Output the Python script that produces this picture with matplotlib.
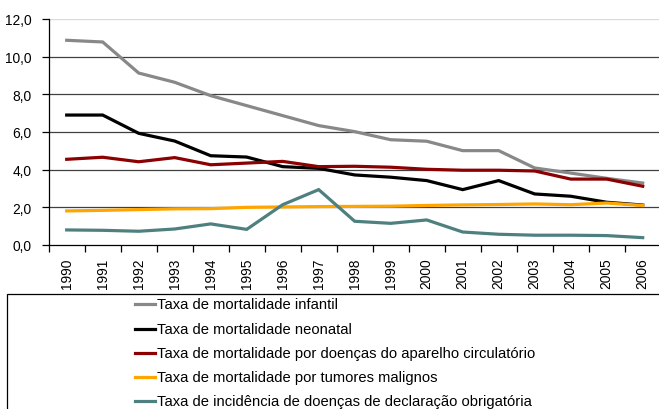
import matplotlib
matplotlib.use("Agg")
import matplotlib.pyplot as plt
from matplotlib.lines import Line2D
from matplotlib.patches import Rectangle

plt.rcParams['font.family'] = ['Liberation Sans', 'DejaVu Sans']

years = [str(y) for y in range(1990, 2007)]
infantil = [10.87, 10.78, 9.13, 8.64, 7.93, 7.40, 6.87, 6.34, 6.02, 5.59, 5.51, 5.01, 5.01, 4.09, 3.82, 3.54, 3.29]
neonatal = [6.90, 6.90, 5.93, 5.52, 4.74, 4.67, 4.16, 4.07, 3.72, 3.60, 3.42, 2.94, 3.42, 2.71, 2.59, 2.27, 2.12]
circulatorio = [4.55, 4.66, 4.42, 4.64, 4.26, 4.35, 4.44, 4.16, 4.18, 4.13, 4.02, 3.97, 3.97, 3.93, 3.50, 3.50, 3.12]
tumores = [1.81, 1.84, 1.88, 1.92, 1.93, 2.00, 2.02, 2.04, 2.05, 2.06, 2.10, 2.13, 2.15, 2.18, 2.14, 2.23, 2.10]
incidencia = [0.80, 0.78, 0.73, 0.85, 1.12, 0.83, 2.14, 2.94, 1.26, 1.15, 1.33, 0.69, 0.57, 0.52, 0.52, 0.50, 0.39]

names = [
    "Taxa de mortalidade infantil",
    "Taxa de mortalidade neonatal",
    "Taxa de mortalidade por doenças do aparelho circulatório",
    "Taxa de mortalidade por tumores malignos",
    "Taxa de incidência de doenças de declaração obrigatória",
]
series = [infantil, neonatal, circulatorio, tumores, incidencia]
colors = ["#888888", "#000000", "#8b0000", "#ffa500", "#4f8080"]
yticks = [0, 2, 4, 6, 8, 10, 12]
ytick_labels = ["0,0", "2,0", "4,0", "6,0", "8,0", "10,0", "12,0"]

W, H = 659, 410
fig = plt.figure(figsize=(W / 100, H / 100), dpi=100)
ax = fig.add_axes([48.7 / W, 164 / H, 612 / W, 226 / H])

x = list(range(len(years)))
for vals, c in zip(series, colors):
    ax.plot(x, vals, color=c, lw=2.3, solid_joinstyle='miter', zorder=3)

ax.set_xlim(-0.5, len(years) - 0.5)
ax.set_ylim(0, 12)
ax.set_yticks(yticks)
ax.set_yticklabels(ytick_labels, fontsize=9.9)
for yv in yticks[1:]:
    col = '#d9d9d9' if yv == 12 else '#404040'
    ax.axhline(yv, color=col, lw=0.9, zorder=1)

ax.set_xticks(x)
ax.set_xticklabels(years, rotation=90, fontsize=9.9)
ax.tick_params(axis='x', which='major', length=0, pad=9)
ax.set_xticks([i - 0.5 for i in range(len(years) + 1)], minor=True)
ax.tick_params(axis='x', which='minor', length=5, width=0.9, color='black', direction='out')
ax.tick_params(axis='y', length=5, width=0.9, pad=7.5, direction='out')

for s in ['top', 'right']:
    ax.spines[s].set_visible(False)
ax.spines['left'].set_linewidth(0.9)
ax.spines['bottom'].set_linewidth(0.9)

# legend box
fig.patches.append(Rectangle((7 / W, -0.05), 1.2, (410 - 294.5) / H + 0.05,
                             transform=fig.transFigure, fill=False,
                             edgecolor='black', lw=0.9, clip_on=False))
row_y = [305, 329.5, 354, 378, 402]
for name, c, ry in zip(names, colors, row_y):
    yf = 1 - ry / H
    fig.lines.append(Line2D([135 / W, 155 / W], [yf, yf], transform=fig.transFigure,
                            color=c, lw=2.3))
    fig.text(157 / W, yf, name, fontsize=10.6, va='center', ha='left')

fig.savefig("out.png", dpi=100)
